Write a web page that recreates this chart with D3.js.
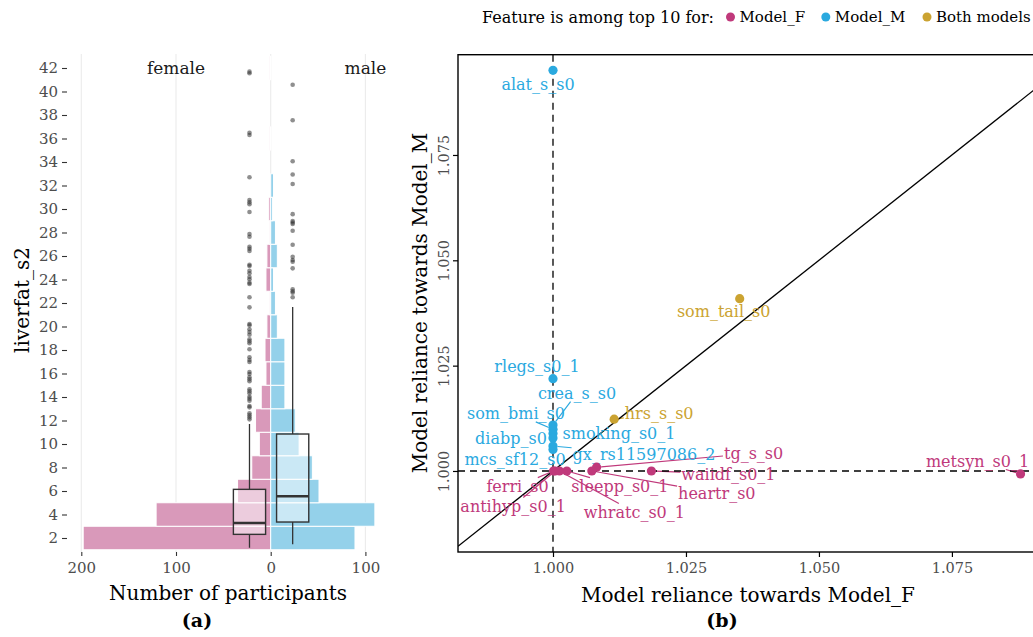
<!DOCTYPE html>
<html>
<head>
<meta charset="utf-8">
<script src="https://cdn.jsdelivr.net/npm/d3@7/dist/d3.min.js"></script>
<style>
  body { margin: 0; background: #fff; }
  svg { display: block; }
  text { font-family: "DejaVu Serif", serif; }
</style>
</head>
<body>
<svg id="chart" width="1033" height="637"></svg>
<script>
// ---------- (a) liver fat distribution by sex ----------
// histogram bins are centred on even values, 2 units wide
const binCentres   = [2, 4, 6, 8, 10, 12, 14, 16, 18, 20, 22, 24, 26, 28, 30, 32, 34, 36, 38, 40, 42];
const femaleCounts = [198, 121, 35, 20, 12, 16, 10, 5, 6, 4, 1, 5, 4, 1, 2, 0, 0, 1, 0, 0, 1];
const maleCounts   = [89, 110, 51, 44, 30, 26, 15, 15, 15, 7, 5, 3, 7, 5, 2, 3, 0, 0, 0, 0, 0];
const yTicksA      = [2, 4, 6, 8, 10, 12, 14, 16, 18, 20, 22, 24, 26, 28, 30, 32, 34, 36, 38, 40, 42];
const xTicksA      = [-200, -100, 0, 100];

// boxplot summaries: [lower whisker, Q1, median, Q3, upper whisker]
const femaleBoxStats = [1.17, 2.31, 3.28, 6.14, 11.7];
const maleBoxStats   = [1.46, 3.36, 5.55, 10.85, 21.66];
const femaleOutliers = [41.69, 41.55, 36.49, 36.3, 32.7, 30.77, 30.57, 30.4, 29.74, 27.87, 27.64,
  26.79, 26.62, 26.43, 25.26, 25.15, 24.75, 24.53, 24.21, 24.02, 23.73, 23.62, 22.49, 21.63,
  20.21, 20.1, 19.76, 19.53, 19.3, 18.91, 18.74, 18.57, 18.06, 17.38, 17.15, 16.98, 16.13, 15.96,
  15.68, 15.51, 15.34, 14.66, 14.49, 14.31, 14.02, 13.86, 13.69, 13.23, 13.12, 12.61, 12.44,
  12.27, 12.1];
const maleOutliers = [40.58, 37.55, 34.06, 32.94, 32.13, 29.56, 28.98, 28.85, 28.72, 28.15,
  26.96, 25.94, 25.66, 25.51, 24.95, 23.17, 23.0, 22.87, 22.49];

// ---------- (b) model reliance ----------
const featureNames = ["alat_s_s0", "som_tail_s0", "rlegs_s0_1", "crea_s_s0", "som_bmi_s0",
  "hrs_s_s0", "smoking_s0_1", "diabp_s0", "gx_rs11597086_2", "mcs_sf12_s0", "tg_s_s0",
  "waiidf_s0_1", "metsyn_s0_1", "ferri_s0", "sleepp_s0_1", "heartr_s0", "antihyp_s0_1", "whratc_s0_1"];
const relianceF = [1.0000, 1.0351, 1.0000, 1.0000, 1.0000, 1.0115, 1.0000, 1.0000, 1.0000, 1.0000,
  1.0082, 1.0185, 1.0879, 1.0001, 1.0026, 1.0073, 1.0004, 1.0012];
const relianceM = [1.0951, 1.0409, 1.0219, 1.0109, 1.0099, 1.0123, 1.0089, 1.0078, 1.0059, 1.0051,
  1.0009, 1.0000, 0.9993, 1.0000, 1.0000, 1.0000, 1.0000, 1.0000];
const topGroup = ["Model_M", "Both models", "Model_M", "Model_M", "Model_M", "Both models", "Model_M",
  "Model_M", "Model_M", "Model_M", "Model_F", "Model_F", "Model_F", "Model_F", "Model_F", "Model_F",
  "Model_F", "Model_F"];
const groupNames = ["Model_F", "Model_M", "Both models"];
const xTicksB = [1.000, 1.025, 1.050, 1.075];
const yTicksB = [1.000, 1.025, 1.050, 1.075];

// label placement (pixel offsets of each label centre from its point)
const labelOffsets = {
  "alat_s_s0": [-15, 14], "som_tail_s0": [-16, 13], "rlegs_s0_1": [-16, -12],
  "crea_s_s0": [24, -32], "som_bmi_s0": [-37, -16], "hrs_s_s0": [45, -6],
  "smoking_s0_1": [66, 0], "diabp_s0": [-42, 0], "gx_rs11597086_2": [91, 8],
  "mcs_sf12_s0": [-38, 10], "tg_s_s0": [157, -14], "waiidf_s0_1": [77, 3],
  "metsyn_s0_1": [-43, -13], "ferri_s0": [-36, 15], "sleepp_s0_1": [53, 15],
  "heartr_s0": [125, 22], "antihyp_s0_1": [-42, 35], "whratc_s0_1": [75, 41]
};

const svg = d3.select("#chart");
const tickGrey = "#4d4d4d";
const barPink = "#d999ba", barBlue = "#94d1ea";
const groupColour = d3.scaleOrdinal().domain(groupNames).range(["#c0397b", "#2aa9df", "#cba331"]);

// ================= panel (a) =================
const aTop = 54, aBottom = 552, aLeft = 70, aRight = 386;
const xA = d3.scaleLinear().domain([-200, 100]).range([81.3, 365.4]);
const yA = d3.scaleLinear().domain([2, 42]).range([538, 68]);
const gA = svg.append("g");

// vertical grid lines
gA.selectAll("line.grid").data(xTicksA).join("line")
  .attr("x1", d => xA(d)).attr("x2", d => xA(d))
  .attr("y1", aTop).attr("y2", aBottom)
  .attr("stroke", "#ebebeb").attr("stroke-width", 1.1);

// back-to-back histogram bars
const bins = binCentres.map((c, i) => ({ c, f: femaleCounts[i], m: maleCounts[i] }));
gA.selectAll("rect.female").data(bins).join("rect")
  .attr("x", d => xA(-d.f)).attr("width", d => xA(0) - xA(-d.f))
  .attr("y", d => yA(d.c + 1)).attr("height", d => yA(d.c - 1) - yA(d.c + 1))
  .attr("fill", barPink).attr("stroke", "#fff").attr("stroke-width", 1);
gA.selectAll("rect.male").data(bins).join("rect")
  .attr("x", xA(0)).attr("width", d => xA(d.m) - xA(0))
  .attr("y", d => yA(d.c + 1)).attr("height", d => yA(d.c - 1) - yA(d.c + 1))
  .attr("fill", barBlue).attr("stroke", "#fff").attr("stroke-width", 1);

// boxplots
function drawBox(stats, outliers, centre, halfWidth) {
  const [lo, q1, med, q3, hi] = stats;
  const g = gA.append("g");
  g.append("line").attr("x1", xA(centre)).attr("x2", xA(centre))
    .attr("y1", yA(q3)).attr("y2", yA(hi)).attr("stroke", "#333").attr("stroke-width", 1.3);
  g.append("line").attr("x1", xA(centre)).attr("x2", xA(centre))
    .attr("y1", yA(q1)).attr("y2", yA(lo)).attr("stroke", "#333").attr("stroke-width", 1.3);
  g.append("rect").attr("x", xA(centre - halfWidth)).attr("width", xA(centre + halfWidth) - xA(centre - halfWidth))
    .attr("y", yA(q3)).attr("height", yA(q1) - yA(q3))
    .attr("fill", "#fff").attr("fill-opacity", 0.5)
    .attr("stroke", "#333").attr("stroke-width", 1.4);
  g.append("line").attr("x1", xA(centre - halfWidth)).attr("x2", xA(centre + halfWidth))
    .attr("y1", yA(med)).attr("y2", yA(med)).attr("stroke", "#333").attr("stroke-width", 2.6);
  g.selectAll("circle").data(outliers).join("circle")
    .attr("cx", xA(centre)).attr("cy", d => yA(d)).attr("r", 2.3)
    .attr("fill", "#333").attr("fill-opacity", 0.55);
}
drawBox(femaleBoxStats, femaleOutliers, -22.4, 17);
drawBox(maleBoxStats, maleOutliers, 23.2, 17);

// facet-like group labels
gA.append("text").attr("x", xA(-100)).attr("y", yA(42)).attr("dy", "0.35em")
  .attr("text-anchor", "middle").attr("font-size", 17).attr("fill", "#1a1a1a").text("female");
gA.append("text").attr("x", xA(100)).attr("y", yA(42)).attr("dy", "0.35em")
  .attr("text-anchor", "middle").attr("font-size", 17).attr("fill", "#1a1a1a").text("male");

// axes
const axA_y = gA.append("g").attr("transform", `translate(${aLeft - 3},0)`)
  .call(d3.axisLeft(yA).tickValues(yTicksA).tickSize(5).tickPadding(4));
const axA_x = gA.append("g").attr("transform", `translate(0,${aBottom})`)
  .call(d3.axisBottom(xA).tickValues(xTicksA).tickSize(4).tickPadding(6).tickFormat(d => Math.abs(d)));
[axA_y, axA_x].forEach(ax => {
  ax.select(".domain").remove();
  ax.selectAll(".tick line").attr("stroke", "#333").attr("stroke-width", 1.1);
  ax.selectAll(".tick text").attr("font-family", "DejaVu Serif").attr("font-size", 15).attr("fill", tickGrey);
});

gA.append("text").attr("transform", "translate(22,300) rotate(-90)")
  .attr("text-anchor", "middle").attr("dy", "0.35em").attr("font-size", 20).text("liverfat_s2");
gA.append("text").attr("x", 228).attr("y", 593).attr("dy", "0.35em")
  .attr("text-anchor", "middle").attr("font-size", 20).text("Number of participants");
gA.append("text").attr("x", 197).attr("y", 620).attr("dy", "0.35em")
  .attr("text-anchor", "middle").attr("font-size", 19).attr("font-weight", "bold").text("(a)");

// ================= panel (b) =================
const bTop = 54.7, bBottom = 552, bLeft = 458, bRight = 1045;
const xB = d3.scaleLinear().domain([0.98214, 1.0925]).range([bLeft, bRight]);
const yB = d3.scaleLinear().domain([0.98077, 1.0988]).range([bBottom, bTop]);
const gB = svg.append("g");

svg.append("defs").append("clipPath").attr("id", "panelB")
  .append("rect").attr("x", bLeft).attr("y", bTop).attr("width", bRight - bLeft).attr("height", bBottom - bTop);

const inner = gB.append("g").attr("clip-path", "url(#panelB)");
// reference lines
inner.append("line").attr("x1", xB(1)).attr("x2", xB(1)).attr("y1", bTop).attr("y2", bBottom)
  .attr("stroke", "#000").attr("stroke-width", 1.3).attr("stroke-dasharray", "7,5");
inner.append("line").attr("x1", bLeft).attr("x2", bRight).attr("y1", yB(1)).attr("y2", yB(1))
  .attr("stroke", "#000").attr("stroke-width", 1.3).attr("stroke-dasharray", "7,5");
const diag = xB.domain();
inner.append("line").attr("x1", xB(diag[0])).attr("y1", yB(diag[0]))
  .attr("x2", xB(diag[1])).attr("y2", yB(diag[1]))
  .attr("stroke", "#000").attr("stroke-width", 1.3);

const feats = featureNames.map((n, i) => ({ n, fx: relianceF[i], my: relianceM[i], g: topGroup[i] }));
const R = 4.6;

// labels first (to measure), then leader segments, then points
const labelG = inner.append("g");
const labels = labelG.selectAll("text").data(feats).join("text")
  .attr("x", d => xB(d.fx) + labelOffsets[d.n][0])
  .attr("y", d => yB(d.my) + labelOffsets[d.n][1])
  .attr("dy", "0.35em").attr("text-anchor", "middle")
  .attr("font-size", 16).attr("fill", d => groupColour(d.g)).text(d => d.n);

const segG = inner.insert("g", ":first-child");
labels.each(function (d) {
  const bb = this.getBBox();
  const px = xB(d.fx), py = yB(d.my);
  const cx = bb.x + bb.width / 2, cy = bb.y + bb.height / 2;
  const dx = cx - px, dy = cy - py;
  const hw = bb.width / 2 + 1, hh = bb.height / 2 - 1;
  // step back from the label centre to its box edge
  const t = Math.min(Math.abs(dx) > 0 ? hw / Math.abs(dx) : Infinity, Math.abs(dy) > 0 ? hh / Math.abs(dy) : Infinity);
  if (t >= 1) return;
  const ex = cx - dx * t, ey = cy - dy * t;
  const len = Math.hypot(ex - px, ey - py);
  if (len < R + 5) return;
  const sx = px + (ex - px) * (R / len), sy = py + (ey - py) * (R / len);
  segG.append("line").attr("x1", sx).attr("y1", sy).attr("x2", ex).attr("y2", ey)
    .attr("stroke", groupColour(d.g)).attr("stroke-width", 1.2);
});

inner.selectAll("circle").data(feats).join("circle")
  .attr("cx", d => xB(d.fx)).attr("cy", d => yB(d.my)).attr("r", R)
  .attr("fill", d => groupColour(d.g));

// frame
gB.append("rect").attr("x", bLeft).attr("y", bTop).attr("width", bRight - bLeft).attr("height", bBottom - bTop)
  .attr("fill", "none").attr("stroke", "#000").attr("stroke-width", 1.4);

const axB_x = gB.append("g").attr("transform", `translate(0,${bBottom})`)
  .call(d3.axisBottom(xB).tickValues(xTicksB).tickSize(5).tickPadding(6).tickFormat(d3.format(".3f")));
const axB_y = gB.append("g").attr("transform", `translate(${bLeft},0)`)
  .call(d3.axisLeft(yB).tickValues(yTicksB).tickSize(5).tickFormat(d3.format(".3f")));
[axB_x, axB_y].forEach(ax => {
  ax.select(".domain").remove();
  ax.selectAll(".tick line").attr("stroke", "#000").attr("stroke-width", 1.2);
  ax.selectAll(".tick text").attr("font-family", "DejaVu Serif").attr("font-size", 14.5).attr("fill", tickGrey);
});
axB_y.selectAll(".tick text")
  .attr("x", null).attr("dy", null)
  .attr("text-anchor", "middle")
  .attr("transform", "translate(-14,0) rotate(-90)")
  .attr("dominant-baseline", "central");

gB.append("text").attr("transform", "translate(420,303) rotate(-90)")
  .attr("text-anchor", "middle").attr("dy", "0.35em").attr("font-size", 20).text("Model reliance towards Model_M");
gB.append("text").attr("x", 748).attr("y", 595).attr("dy", "0.35em")
  .attr("text-anchor", "middle").attr("font-size", 20).text("Model reliance towards Model_F");
gB.append("text").attr("x", 722).attr("y", 620).attr("dy", "0.35em")
  .attr("text-anchor", "middle").attr("font-size", 19).attr("font-weight", "bold").text("(b)");

// legend
const leg = svg.append("g");
leg.append("text").attr("x", 482).attr("y", 17).attr("dy", "0.35em").attr("font-size", 16)
  .text("Feature is among top 10 for:");
const legX = [730.5, 825.8, 927];
groupNames.forEach((gName, i) => {
  leg.append("circle").attr("cx", legX[i]).attr("cy", 17).attr("r", 4.5).attr("fill", groupColour(gName));
  leg.append("text").attr("x", legX[i] + 9).attr("y", 17).attr("dy", "0.35em").attr("font-size", 15).text(gName);
});
</script>
</body>
</html>
